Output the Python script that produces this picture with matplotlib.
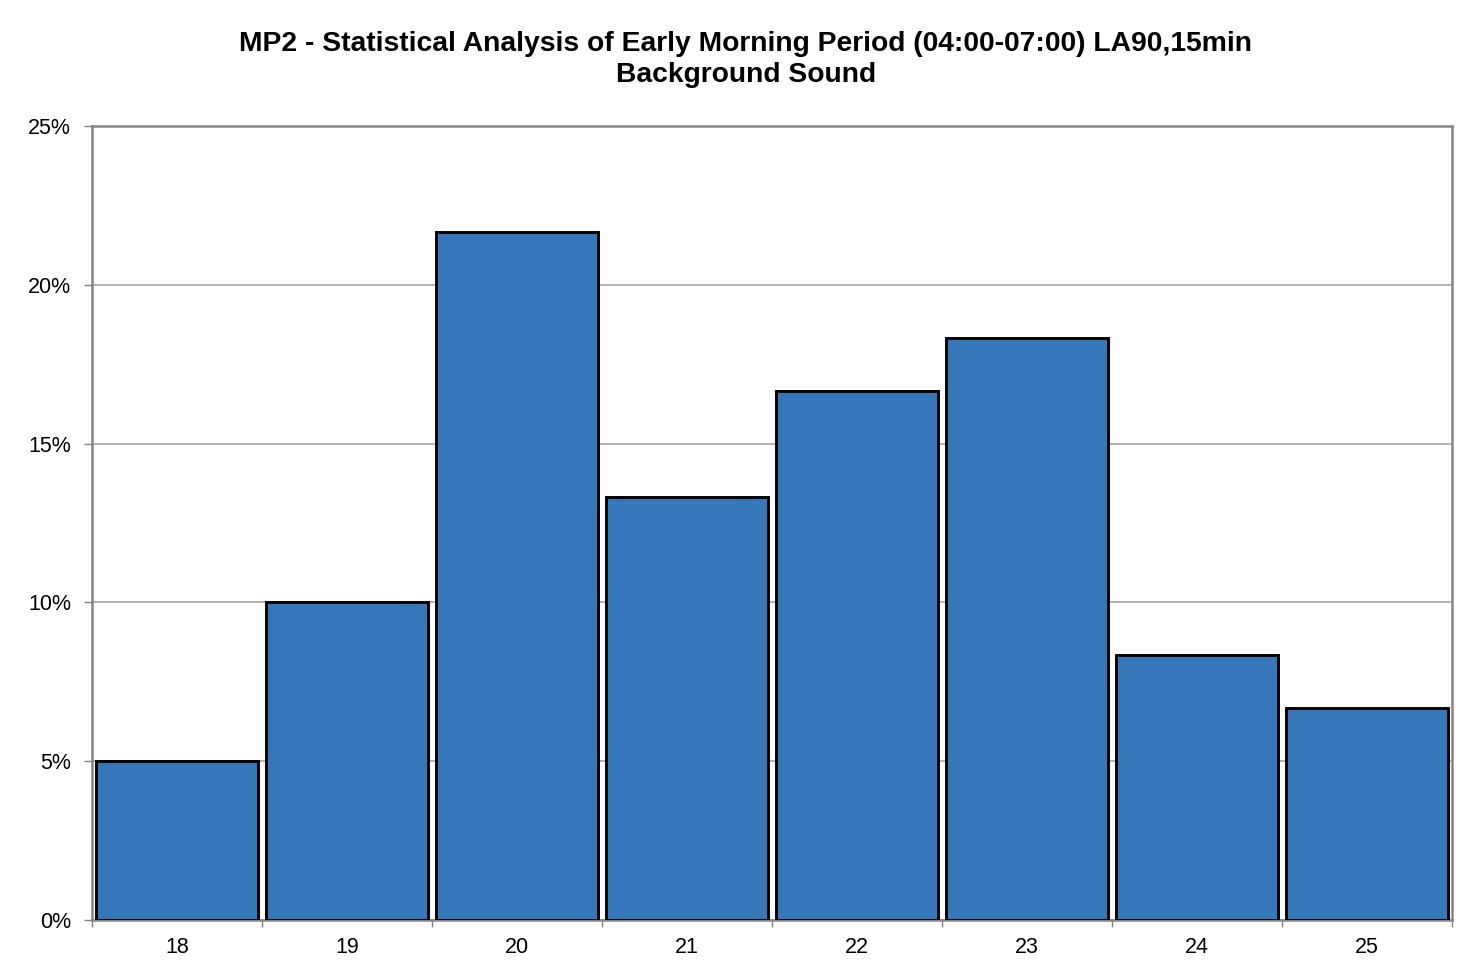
import numpy as np
import matplotlib
matplotlib.use('Agg')
import matplotlib.pyplot as plt
from matplotlib.ticker import FuncFormatter, FixedLocator

plt.rcParams['font.family'] = ['Liberation Sans', 'DejaVu Sans']

# LA90,15min levels (dB) and share of samples
levels = [18, 19, 20, 21, 22, 23, 24, 25]
share = [5.0, 10.0, 21.67, 13.33, 16.67, 18.33, 8.33, 6.67]

fig = plt.figure(figsize=(14.62, 9.74), dpi=100)
ax = fig.add_axes([0.0629, 0.0554, 0.9303, 0.8152])

x = np.arange(len(levels))
ax.bar(x, share, width=0.955, color='#3577B8', edgecolor='black', linewidth=2.1, zorder=3)

ax.set_xlim(-0.5, len(levels) - 0.5)
ax.set_ylim(0, 25)
ax.set_yticks(np.arange(0, 26, 5))
ax.yaxis.set_major_formatter(FuncFormatter(lambda v, p: '%d%%' % v))
ax.grid(axis='y', color='#a6a6a6', linewidth=1.2, zorder=0)

ax.set_xticks(x)
ax.set_xticklabels([str(l) for l in levels])
ax.xaxis.set_minor_locator(FixedLocator(np.arange(-0.5, len(levels), 1)))
ax.tick_params(axis='x', which='major', length=0, pad=12, labelsize=15.5)
ax.tick_params(axis='x', which='minor', length=5, color='#808080', width=1)
ax.tick_params(axis='y', length=6, color='#808080', width=1, labelsize=15.5, pad=9)

for s in ax.spines.values():
    s.set_color('#858585')
    s.set_linewidth(1.8)

fig.text(0.51, 0.939, 'MP2 - Statistical Analysis of Early Morning Period (04:00-07:00) LA90,15min\nBackground Sound',
         ha='center', va='center', fontsize=20.3, fontweight='bold', linespacing=1.25)

fig.savefig('out.png', dpi=100, facecolor='white')
